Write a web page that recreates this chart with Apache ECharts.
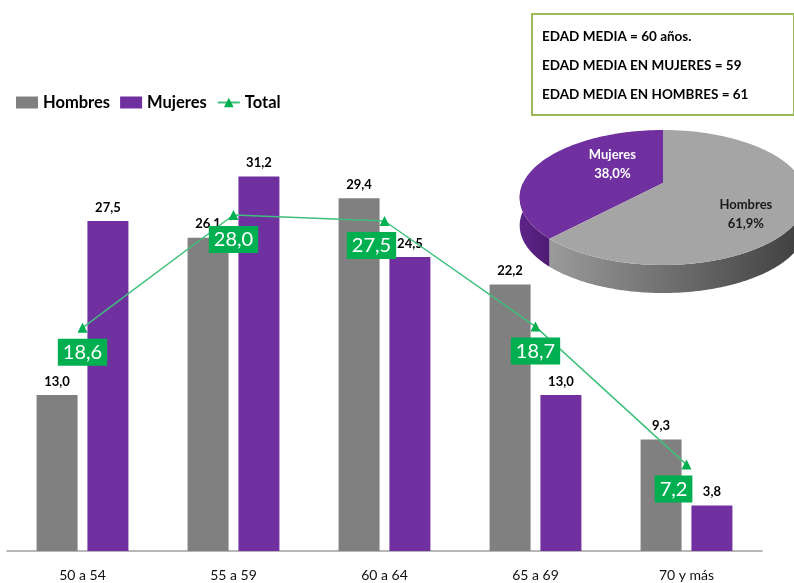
<!DOCTYPE html>
<html>
<head>
<meta charset="utf-8">
<script src="https://cdn.jsdelivr.net/npm/echarts@6/dist/echarts.min.js"></script>
<style>html,body{margin:0;padding:0;background:#fff}#c{width:794px;height:583px}</style>
</head>
<body>
<div id="c"></div>
<script>
const categories = ['50 a 54', '55 a 59', '60 a 64', '65 a 69', '70 y más'];
const hombres = [13.0, 26.1, 29.4, 22.2, 9.3];
const mujeres = [27.5, 31.2, 24.5, 13.0, 3.8];
const total = [18.6, 28.0, 27.5, 18.7, 7.2];
const seriesNames = ['Hombres', 'Mujeres', 'Total'];
const pieNames = ['Mujeres', 'Hombres'];
const pieValues = [38.0, 61.9];
const infoLines = ['EDAD MEDIA = 60 años.', 'EDAD MEDIA EN MUJERES = 59', 'EDAD MEDIA EN HOMBRES = 61'];

// styling constants
const FONT = 'Lato, "Open Sans", sans-serif';
const totalLabelShift = [0, 0, -13, 0, -13];
const fmt = v => Number(v).toFixed(1).replace('.', ',');

// 3D pie projection settings
const PC = { cx: 663, cy: 183, F: 578, D: 4.13, sinA: 0.46, cosA: 0.888, depth: 28 };
function proj(x, z) {
  const d = PC.D - z * PC.cosA;
  return [PC.cx + PC.F * x / d, PC.cy + PC.F * z * PC.sinA / d];
}
const pieTotal = pieValues.reduce((a, b) => a + b, 0);
const pieStart = [];
(function () { let acc = 0; pieValues.forEach(v => { pieStart.push(acc); acc += v; }); })();
const pieTopColors = ['#7030A0', '#A5A5A5'];
const pieSideColors = [
  ['#5E2488', '#4E1C72'],
  ['#9A9A9A', '#3E3E3E']
];
const pieLabelColors = ['#FFFFFF', '#1A1A1A'];
const pieLabelR = 0.55;
const pieLabelOffset = [[18, -6], [8, 18]];

function renderPie(params, api) {
  const i = params.dataIndex;
  const v = api.value(0);
  const deg = Math.PI / 180;
  const a0 = -90 * deg - (pieStart[i] / pieTotal) * 2 * Math.PI;
  const a1 = a0 - (v / pieTotal) * 2 * Math.PI;
  const N = 80;
  const top = [proj(0, 0)];
  for (let k = 0; k <= N; k++) {
    const a = a0 + (a1 - a0) * k / N;
    top.push(proj(Math.cos(a), Math.sin(a)));
  }
  const children = [];
  const norm = a => { let t = a % (2 * Math.PI); if (t < 0) t += 2 * Math.PI; return t; };
  const sideTop = [];
  for (let k = 0; k <= 400; k++) {
    const a = a0 + (a1 - a0) * k / 400;
    const t = norm(a);
    if (t >= 0 && t <= Math.PI) sideTop.push(a);
  }
  if (sideTop.length > 1) {
    const upper = sideTop.map(a => proj(Math.cos(a), Math.sin(a)));
    const lower = upper.slice().reverse().map(p => [p[0], p[1] + PC.depth]);
    children.push({
      type: 'polygon',
      shape: { points: upper.concat(lower) },
      style: {
        fill: { type: 'linear', x: 0, y: 0, x2: 1, y2: 0,
          colorStops: [{ offset: 0, color: pieSideColors[i][0] }, { offset: 1, color: pieSideColors[i][1] }] }
      }
    });
  }
  children.push({ type: 'polygon', shape: { points: top }, style: { fill: pieTopColors[i] } });
  const am = (a0 + a1) / 2;
  const lp = proj(pieLabelR * Math.cos(am), pieLabelR * Math.sin(am));
  children.push({
    type: 'text',
    x: lp[0] + pieLabelOffset[i][0], y: lp[1] + pieLabelOffset[i][1],
    style: {
      text: pieNames[i] + '\n' + fmt(v) + '%',
      fill: pieLabelColors[i], font: 'bold 13px ' + FONT,
      align: 'center', verticalAlign: 'middle', lineHeight: 19
    }
  });
  return { type: 'group', children: children };
}

const chart = echarts.init(document.getElementById('c'), null, { renderer: 'canvas' });
chart.setOption({
  backgroundColor: '#ffffff',
  animation: false,
  textStyle: { fontFamily: FONT },
  legend: {
    left: 11, top: 89,
    itemWidth: 22, itemHeight: 12, itemGap: 10,
    data: [
      { name: seriesNames[0], icon: 'rect' },
      { name: seriesNames[1], icon: 'rect' },
      { name: seriesNames[2] }
    ],
    textStyle: { fontFamily: FONT, fontWeight: 'bold', fontSize: 16.5, color: '#000' }
  },
  grid: { left: 7, right: 32, top: 131, bottom: 32, containLabel: false },
  xAxis: {
    type: 'category', data: categories,
    axisLine: { lineStyle: { color: '#A0A0A0', width: 1.5 } },
    axisTick: { show: false },
    axisLabel: { fontFamily: FONT, fontSize: 14, color: '#111', margin: 17 }
  },
  yAxis: { type: 'value', min: 0, max: 35, show: false, splitLine: { show: false } },
  graphic: [
    { type: 'rect', shape: { x: 532, y: 14, width: 262, height: 101 },
      style: { fill: '#fff', stroke: '#9BBB59', lineWidth: 2 } },
    ...infoLines.map((t, k) => ({
      type: 'text', x: 542, y: 37 + k * 29,
      style: { text: t, fill: '#000', font: 'bold 13.5px ' + FONT, verticalAlign: 'middle' }
    }))
  ],
  series: [
    {
      name: seriesNames[0], type: 'bar', data: hombres,
      barWidth: 41, barGap: '24%',
      itemStyle: { color: '#808080' },
      label: { show: true, position: 'top', distance: 7, formatter: p => fmt(p.value),
        fontFamily: FONT, fontWeight: 'bold', fontSize: 13, color: '#000' }
    },
    {
      name: seriesNames[1], type: 'bar', data: mujeres,
      barWidth: 41,
      itemStyle: { color: '#7030A0' },
      label: { show: true, position: 'top', distance: 7, formatter: p => fmt(p.value),
        fontFamily: FONT, fontWeight: 'bold', fontSize: 13, color: '#000' }
    },
    {
      name: seriesNames[2], type: 'line', z: 5,
      data: total.map((v, k) => ({ value: v, label: { offset: [totalLabelShift[k], 0] } })),
      symbol: 'triangle', symbolSize: 10,
      lineStyle: { color: '#3EC07C', width: 1.5 },
      itemStyle: { color: '#00B050' },
      label: {
        show: true, position: 'bottom', distance: 6,
        formatter: p => fmt(p.value),
        backgroundColor: '#00B050', color: '#fff',
        textBorderWidth: 0, borderWidth: 0,
        fontFamily: FONT, fontSize: 20, padding: [4, 5, 3, 5]
      }
    },
    {
      name: 'pie3d', type: 'custom', coordinateSystem: 'none',
      data: pieValues.map(v => [v]),
      renderItem: renderPie, silent: true, z: 1
    }
  ]
});
</script>
</body>
</html>
